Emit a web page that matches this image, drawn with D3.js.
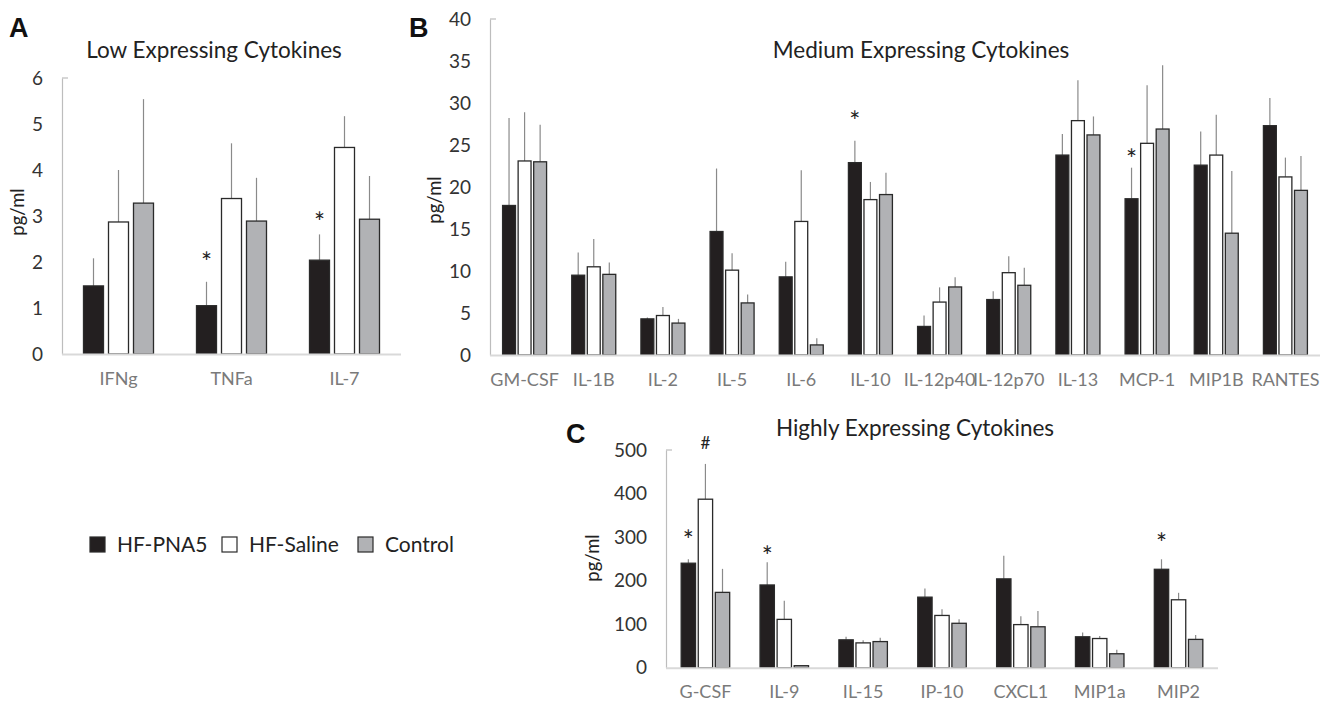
<!DOCTYPE html>
<html>
<head>
<meta charset="utf-8">
<script src="https://cdn.jsdelivr.net/npm/d3@7"></script>
<style>
  body { margin: 0; background: #fff; }
  svg { display: block; font-family: Lato, "Open Sans", sans-serif; }
</style>
</head>
<body>
<svg id="chart" width="1330" height="701"></svg>
<script>
// groups / legend
var groups = ["HF-PNA5", "HF-Saline", "Control"];
var groupFill = ["#231f20", "#ffffff", "#b1b2b5"];

// A - low expressing
var lowCats = ["IFNg", "TNFa", "IL-7"];
var lowPNA5 = [1.48, 1.05, 2.04];
var lowPNA5Err = [0.60, 0.52, 0.56];
var lowSaline = [2.87, 3.38, 4.49];
var lowSalineErr = [1.13, 1.20, 0.68];
var lowControl = [3.28, 2.89, 2.93];
var lowControlErr = [2.26, 0.94, 0.94];
var lowTicks = [0, 1, 2, 3, 4, 5, 6];
var lowMarks = [{cat: "TNFa", g: 0, s: "*", v: 2.09}, {cat: "IL-7", g: 0, s: "*", v: 2.96}];

// B - medium expressing
var medCats = ["GM-CSF", "IL-1B", "IL-2", "IL-5", "IL-6", "IL-10", "IL-12p40", "IL-12p70", "IL-13", "MCP-1", "MIP1B", "RANTES"];
var medPNA5 = [17.8, 9.5, 4.3, 14.7, 9.3, 22.9, 3.4, 6.6, 23.8, 18.6, 22.6, 27.3];
var medPNA5Err = [10.4, 2.7, 0.15, 7.5, 1.8, 2.6, 1.3, 1.0, 2.5, 3.7, 4.0, 3.3];
var medSaline = [23.1, 10.5, 4.7, 10.1, 15.9, 18.5, 6.3, 9.8, 27.9, 25.2, 23.8, 21.2];
var medSalineErr = [5.8, 3.3, 1.0, 2.0, 6.1, 2.1, 1.75, 1.95, 4.8, 6.9, 4.8, 2.3];
var medControl = [23.0, 9.6, 3.8, 6.2, 1.2, 19.1, 8.1, 8.3, 26.2, 26.9, 14.5, 19.6];
var medControlErr = [4.4, 1.4, 0.5, 1.0, 0.8, 2.6, 1.15, 2.1, 2.2, 7.6, 7.4, 4.1];
var medTicks = [0, 5, 10, 15, 20, 25, 30, 35, 40];
var medMarks = [{cat: "IL-10", g: 0, s: "*", v: 28.3}, {cat: "MCP-1", g: 0, s: "*", v: 23.8}];

// C - highly expressing
var highCats = ["G-CSF", "IL-9", "IL-15", "IP-10", "CXCL1", "MIP1a", "MIP2"];
var highPNA5 = [240, 190, 64, 162, 204, 71, 226];
var highPNA5Err = [9, 52, 7, 20, 53, 10, 23];
var highSaline = [387, 111, 57, 120, 99, 67, 156];
var highSalineErr = [81, 43, 6, 14, 19, 6, 16];
var highControl = [173, 4.6, 60, 102, 94, 32, 65];
var highControlErr = [54, 0, 9, 9, 36, 9, 10];
var highTicks = [0, 100, 200, 300, 400, 500];
var highMarks = [{cat: "G-CSF", g: 0, s: "*", v: 302}, {cat: "G-CSF", g: 1, s: "#", v: 516},
                 {cat: "IL-9", g: 0, s: "*", v: 266}, {cat: "MIP2", g: 0, s: "*", v: 296}];

var svg = d3.select("#chart");

function drawPanel(p) {
  var x = d3.scaleBand().domain(p.cats).range([p.x0, p.x1]);
  var y = d3.scaleLinear().domain([0, d3.max(p.ticks)]).range([p.y0, p.y1]);
  var sub = d3.scaleBand().domain(groups).range([0, p.groupW]).paddingInner(p.gap);
  var g = svg.append("g");

  var rows = [];
  p.cats.forEach(function(c, i) {
    p.series.forEach(function(s, j) {
      rows.push({cat: c, g: j, v: s[i], e: p.errs[j][i]});
    });
  });
  function bx(d) { return x(d.cat) + x.bandwidth() / 2 - p.groupW / 2 + sub(groups[d.g]); }

  // error bars (upper only)
  g.selectAll("line.err").data(rows).enter().append("line")
    .attr("x1", function(d) { return bx(d) + sub.bandwidth() / 2; })
    .attr("x2", function(d) { return bx(d) + sub.bandwidth() / 2; })
    .attr("y1", function(d) { return y(d.v); })
    .attr("y2", function(d) { return y(d.v + d.e); })
    .attr("stroke", "#8a8a8a").attr("stroke-width", 1.2);

  g.selectAll("rect").data(rows).enter().append("rect")
    .attr("x", bx)
    .attr("y", function(d) { return y(d.v); })
    .attr("width", sub.bandwidth())
    .attr("height", function(d) { return y(0) - y(d.v); })
    .attr("fill", function(d) { return groupFill[d.g]; })
    .attr("stroke", "#2a2a2a").attr("stroke-width", 1.3);

  // y axis
  var ya = g.append("g").attr("transform", "translate(" + p.x0 + ",0)")
    .call(d3.axisLeft(y).tickValues(p.ticks).tickFormat(d3.format("d"))
      .tickSizeInner(0).tickSizeOuter(0).tickPadding(19));
  ya.select(".domain").attr("stroke", "#bdbdbd").attr("stroke-width", 1.2);
  ya.selectAll("text").attr("font-size", 19).attr("fill", "#333").attr("font-family", "Lato");
  ya.append("line").attr("x1", 0).attr("x2", 6).attr("y1", y(d3.max(p.ticks))).attr("y2", y(d3.max(p.ticks)))
    .attr("stroke", "#bdbdbd").attr("stroke-width", 1.2);

  // baseline + category labels
  g.append("line").attr("x1", p.x0).attr("x2", p.x1).attr("y1", y(0) + 0.5).attr("y2", y(0) + 0.5)
    .attr("stroke", "#d9d9d9").attr("stroke-width", 2);
  g.selectAll("text.cat").data(p.cats).enter().append("text")
    .attr("x", function(d) { return x(d) + x.bandwidth() / 2; })
    .attr("y", y(0) + 30.5)
    .attr("text-anchor", "middle").attr("font-size", 18).attr("fill", "#7a7a7a")
    .text(function(d) { return d; });

  // y label
  g.append("text").attr("transform", "translate(" + p.ylabX + "," + p.ylabY + ") rotate(-90)")
    .attr("text-anchor", "middle").attr("font-size", 18.5).attr("fill", "#222").text("pg/ml");

  // title + panel letter
  g.append("text").attr("x", p.titleX).attr("y", p.titleY).attr("text-anchor", "middle")
    .attr("font-size", 22.5).attr("fill", "#222").text(p.title);
  g.append("text").attr("x", p.letterX).attr("y", p.letterY)
    .attr("font-family", "Liberation Sans, Arial, sans-serif").attr("font-weight", "bold")
    .attr("font-size", 27).attr("fill", "#111").text(p.letter);

  // significance marks
  g.selectAll("text.mark").data(p.marks).enter().append("text")
    .attr("x", function(d) { return bx(d) + sub.bandwidth() / 2; })
    .attr("y", function(d) { return y(d.v) + (d.s === "*" ? 14 : 6); })
    .attr("text-anchor", "middle").attr("font-size", function(d) { return d.s === "*" ? 26 : 17; })
    .attr("fill", "#222").text(function(d) { return d.s; });
}

drawPanel({cats: lowCats, series: [lowPNA5, lowSaline, lowControl],
  errs: [lowPNA5Err, lowSalineErr, lowControlErr], ticks: lowTicks, marks: lowMarks,
  x0: 62, x1: 401, y0: 354, y1: 78, groupW: 70, gap: 0.2,
  ylabX: 24, ylabY: 212, title: "Low Expressing Cytokines", titleX: 214, titleY: 58,
  letter: "A", letterX: 9, letterY: 37});

drawPanel({cats: medCats, series: [medPNA5, medSaline, medControl],
  errs: [medPNA5Err, medSalineErr, medControlErr], ticks: medTicks, marks: medMarks,
  x0: 490, x1: 1320, y0: 355, y1: 19, groupW: 44, gap: 0.17,
  ylabX: 441, ylabY: 200, title: "Medium Expressing Cytokines", titleX: 921, titleY: 58,
  letter: "B", letterX: 409, letterY: 37});

drawPanel({cats: highCats, series: [highPNA5, highSaline, highControl],
  errs: [highPNA5Err, highSalineErr, highControlErr], ticks: highTicks, marks: highMarks,
  x0: 666, x1: 1218, y0: 667.7, y1: 450, groupW: 48.5, gap: 0.16,
  ylabX: 599, ylabY: 558, title: "Highly Expressing Cytokines", titleX: 915, titleY: 436,
  letter: "C", letterX: 566, letterY: 443});

// legend
var leg = svg.append("g").attr("transform", "translate(90,545)");
var legX = [0, 132, 268];
groups.forEach(function(name, i) {
  leg.append("rect").attr("x", legX[i]).attr("y", -8).attr("width", 15).attr("height", 15)
    .attr("fill", groupFill[i]).attr("stroke", "#2a2a2a").attr("stroke-width", 1.2);
  leg.append("text").attr("x", legX[i] + 27).attr("y", 7).attr("font-size", 21)
    .attr("fill", "#222").text(name);
});
</script>
</body>
</html>
